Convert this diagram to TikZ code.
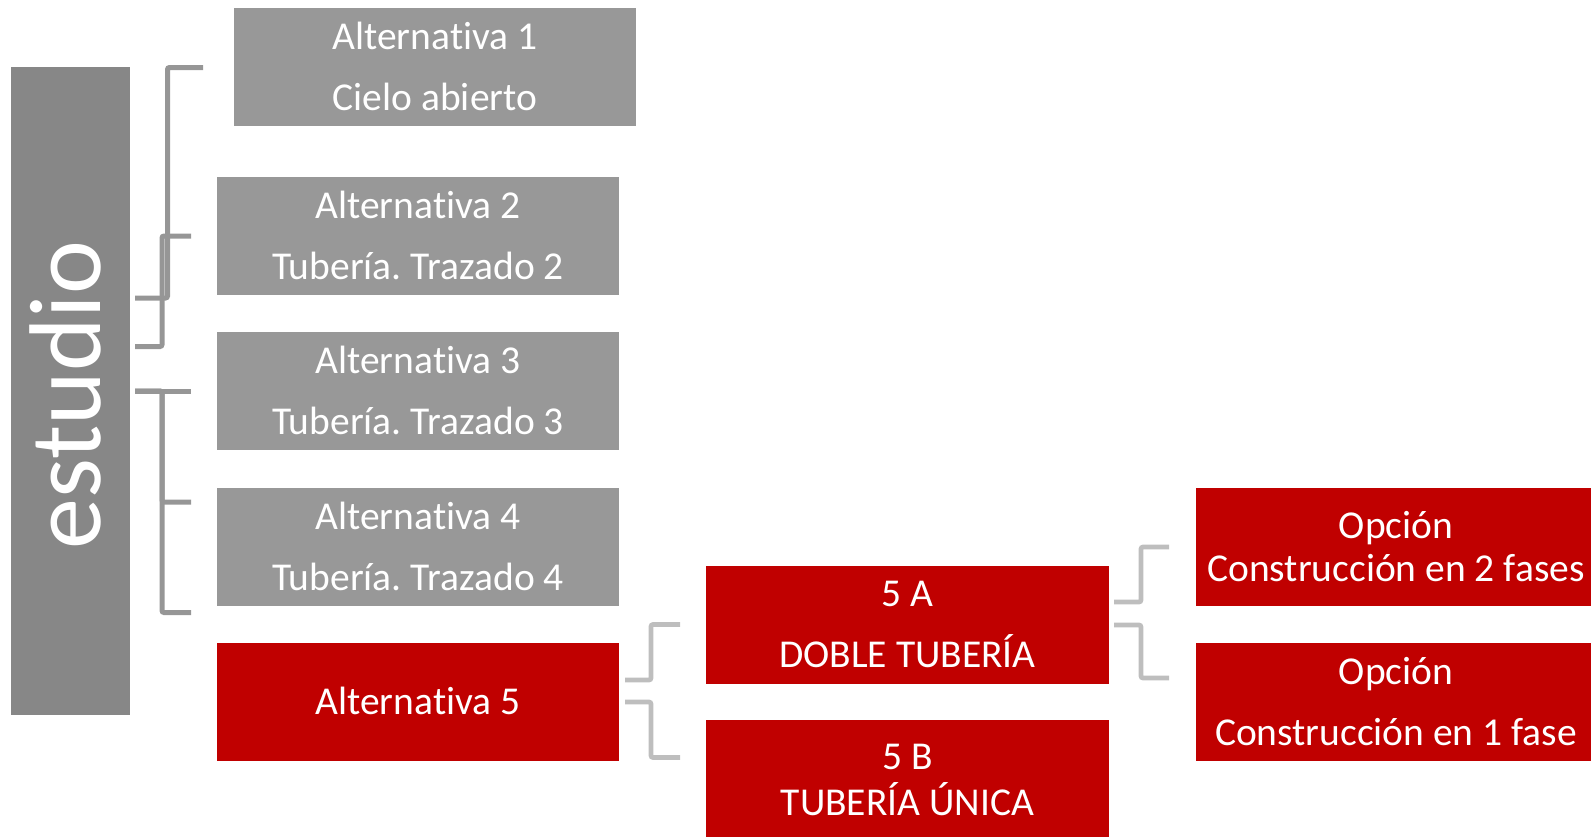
\documentclass[tikz,border=0pt]{standalone}
\usepackage{fontspec}
\setmainfont{Carlito}[RawFeature={-liga;-clig;-dlig;-calt;-rlig;-hlig}]
\frenchspacing
\usetikzlibrary{calc}
\definecolor{estgray}{RGB}{135,135,135}
\definecolor{boxgray}{RGB}{152,152,152}
\definecolor{conngray}{RGB}{150,150,150}
\definecolor{connlight}{RGB}{190,190,190}
\definecolor{boxred}{RGB}{192,0,0}
\newcommand{\twolines}[2]{\begin{tabular}[t]{@{}c@{}}#1\\#2\end{tabular}}
\newcommand{\altword}{Alternat\kern0pt iva}
\begin{document}
\begin{tikzpicture}[x=0.5pt,y=-0.5pt,
  box/.style={rectangle, inner sep=0pt, minimum width=201pt, minimum height=59pt,
    text=white, font=\fontsize{19.75pt}{30.5pt}\selectfont},
  graybox/.style={box, fill=boxgray},
  redbox/.style={box, fill=boxred},
  twoline/.style={text height=0pt, text depth=18pt},
  twotight/.style={text height=0pt, text depth=9pt, font=\fontsize{19.75pt}{21.5pt}\selectfont},
  oneline/.style={text height=12.5pt, text depth=0pt},
  conn/.style={draw=conngray, line width=2.5pt, rounded corners=1pt},
  connl/.style={draw=connlight, line width=2.35pt, rounded corners=1pt},
]
\useasboundingbox (0,0) rectangle (1591,836);
% main box
\node[fill=estgray, inner sep=0pt, minimum width=59.5pt, minimum height=324pt] (estudio) at (70.5,391) {};
\node[rotate=90, anchor=base, text=white, inner sep=0pt, font=\fontsize{51pt}{51pt}\selectfont] (esttext) at (100,395) {estudio};
% alternatives
\node[graybox, twoline] (alt1) at (435,67) {\twolines{\altword{} 1}{Cielo abierto}};
\node[graybox, twoline] (alt2) at (418,236) {\twolines{\altword{} 2}{Tubería. Trazado 2}};
\node[graybox, twoline] (alt3) at (418,391) {\twolines{\altword{} 3}{Tubería. Trazado 3}};
\node[graybox, twoline] (alt4) at (418,547) {\twolines{\altword{} 4}{Tubería. Trazado 4}};
\node[redbox, oneline] (alt5) at (418,702) {\altword{} 5};
\node[redbox, twoline, minimum width=201.5pt] (a5A) at (907.5,624.5) {\twolines{5 A}{DOBLE TUBERÍA}};
\node[redbox, twotight, minimum width=201.5pt] (a5B) at (907.5,778.5) {\twolines{5 B}{TUBERÍA ÚNICA}};
\node[redbox, twotight, minimum width=200pt] (op2) at (1396,547) {\twolines{Opción}{Construcción en 2 fases}};
\node[redbox, twoline, minimum width=200pt] (op1) at (1396,702) {\twolines{Opción}{Construcción en 1 fase}};
% connector ends
\coordinate (sA) at (135,298);   \coordinate (tA) at (203,67.5);
\coordinate (sB) at (135,346.5); \coordinate (tB) at (191,236);
\coordinate (sC) at (135,391);   \coordinate (tC3) at (191,391);
\coordinate (tC4) at (191,502);  \coordinate (tC5) at (191,612.5);
\coordinate (sD1) at (625,680);  \coordinate (tD1) at (680,624.5);
\coordinate (sD2) at (625,702);  \coordinate (tD2) at (680,757.5);
\coordinate (sE1) at (1114,602); \coordinate (tE1) at (1169,547);
\coordinate (sE2) at (1114,625); \coordinate (tE2) at (1169,678);
% connectors
\draw[conn] (sA) -| ($(tA)+(-35.5,0)$) -- (tA);
\draw[conn] (sB) -| ($(tB)+(-29,0)$) -- (tB);
\draw[conn] (sC) -- (tC3);
\draw[conn] (sC) -| ($(tC4)+(-29,0)$) -- (tC4);
\draw[conn] (sC) -| ($(tC5)+(-29,0)$) -- (tC5);
\draw[connl] (sD1) -| ($(tD1)+(-29,0)$) -- (tD1);
\draw[connl] (sD2) -| ($(tD2)+(-29,0)$) -- (tD2);
\draw[connl] (sE1) -| ($(tE1)+(-28,0)$) -- (tE1);
\draw[connl] (sE2) -| ($(tE2)+(-28,0)$) -- (tE2);
\end{tikzpicture}
\end{document}
